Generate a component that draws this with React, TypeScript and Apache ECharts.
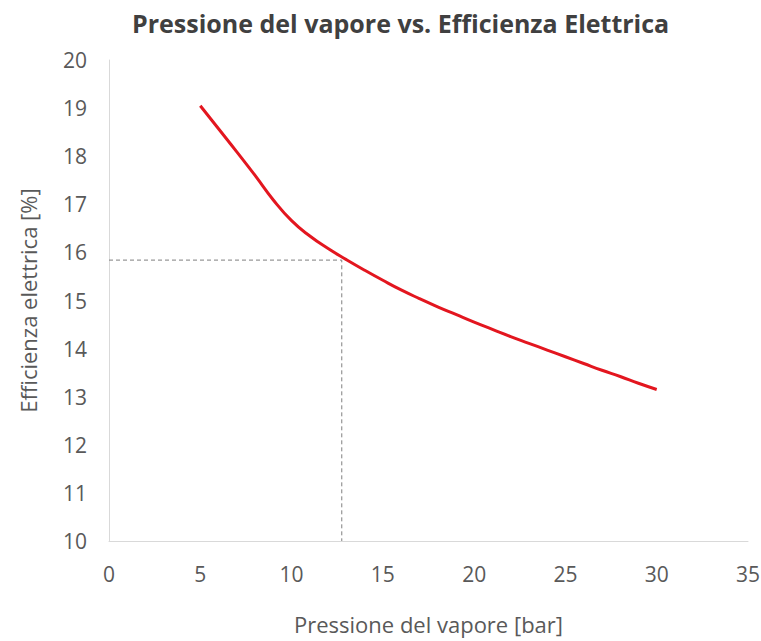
import React, { useEffect, useRef } from "react";
import * as echarts from "echarts";

const pressure = [5, 6, 7, 8, 9, 10, 11, 12, 13, 14, 15, 16, 17, 18, 19, 20, 21, 22, 23, 24, 25, 26, 27, 28, 29, 30];
const efficiency = [19.05, 18.57, 18.09, 17.6, 17.09, 16.66, 16.34, 16.08, 15.85, 15.63, 15.42, 15.22, 15.04, 14.87, 14.71, 14.55, 14.40, 14.25, 14.11, 13.97, 13.83, 13.69, 13.55, 13.42, 13.28, 13.15];
const refPressure = 12.75;
const refEfficiency = 15.84;
const xTicks = [0, 35, 5];
const yTicks = [10, 20, 1];

const FONT = "'Open Sans', 'Noto Sans', sans-serif";

export default function App() {
  const ref = useRef<HTMLDivElement>(null);
  useEffect(() => {
    document.body.style.margin = "0";
    if (!ref.current) return;
    const chart = echarts.init(ref.current, null, { renderer: "svg" });
    chart.setOption({
      animation: false,
      backgroundColor: "#ffffff",
      title: {
        text: "Pressione del vapore vs. Efficienza Elettrica",
        left: 127,
        top: 5,
        textStyle: { fontFamily: FONT, fontSize: 25, fontWeight: "bold", color: "#404040" },
      },
      grid: { left: 109, right: 13, top: 60, bottom: 100, outerBoundsMode: "none", containLabel: false },
      xAxis: {
        type: "value",
        min: xTicks[0],
        max: xTicks[1],
        interval: xTicks[2],
        name: "Pressione del vapore [bar]",
        nameLocation: "middle",
        nameGap: 72,
        nameTextStyle: { fontFamily: FONT, fontSize: 22, color: "#595959" },
        axisLine: { show: true, lineStyle: { color: "#d9d9d9", width: 1 } },
        axisTick: { show: false },
        splitLine: { show: false },
        axisLabel: { fontFamily: FONT, fontSize: 21, color: "#595959", margin: 22 },
      },
      yAxis: {
        type: "value",
        min: yTicks[0],
        max: yTicks[1],
        interval: yTicks[2],
        name: "Efficienza elettrica [%]",
        nameLocation: "middle",
        nameGap: 70,
        nameTextStyle: { fontFamily: FONT, fontSize: 22, color: "#595959" },
        axisLine: { show: true, lineStyle: { color: "#d9d9d9", width: 1 } },
        axisTick: { show: false },
        splitLine: { show: false },
        axisLabel: { fontFamily: FONT, fontSize: 21, color: "#595959", margin: 22 },
      },
      series: [
        {
          type: "line",
          data: [[0, refEfficiency], [refPressure, refEfficiency], [refPressure, yTicks[0]]],
          symbol: "none",
          lineStyle: { color: "#7f7f7f", width: 1, type: [4, 3] },
          z: 1,
        },
        {
          type: "line",
          data: pressure.map((p, i) => [p, efficiency[i]]),
          smooth: 0.5,
          symbol: "none",
          lineStyle: { color: "#e3161f", width: 3 },
          z: 2,
        },
      ],
    });
    return () => chart.dispose();
  }, []);
  return <div ref={ref} style={{ width: 761, height: 641 }} />;
}
